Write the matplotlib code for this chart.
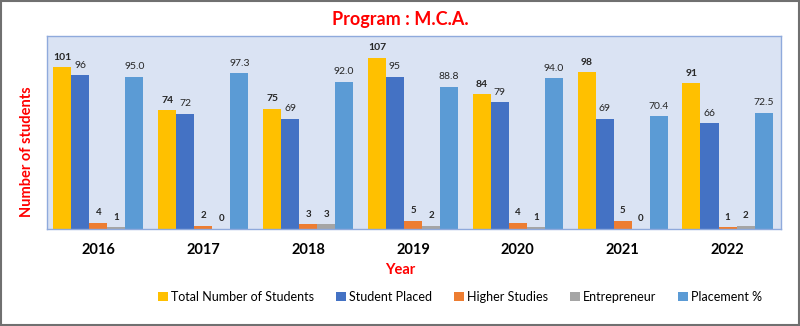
import matplotlib
matplotlib.use("Agg")
import matplotlib.pyplot as plt
import numpy as np
from matplotlib.patches import Rectangle

years = ["2016", "2017", "2018", "2019", "2020", "2021", "2022"]
total_students = [101, 74, 75, 107, 84, 98, 91]
student_placed = [96, 72, 69, 95, 79, 69, 66]
higher_studies = [4, 2, 3, 5, 4, 5, 1]
entrepreneur = [1, 0, 3, 2, 1, 0, 2]
placement_pct = [95.0, 97.3, 92.0, 88.8, 94.0, 70.4, 72.5]

series = [
    ("Total Number of Students", total_students, "#FFC000", "{:.0f}", "bold"),
    ("Student Placed", student_placed, "#4472C4", "{:.0f}", "normal"),
    ("Higher Studies", higher_studies, "#ED7D31", "{:.0f}", "bold"),
    ("Entrepreneur", entrepreneur, "#A5A5A5", "{:.0f}", "bold"),
    ("Placement %", placement_pct, "#5B9BD5", "{:.1f}", "normal"),
]

plt.rcParams['font.family'] = ['Lato', 'DejaVu Sans']

fig = plt.figure(figsize=(8, 3.26), dpi=100)
ax = fig.add_axes([0.05875, 0.2975, 0.9175, 0.592])
ax.set_facecolor("#DAE3F3")
for s in ax.spines.values():
    s.set_color("#8FAADC")
    s.set_linewidth(1.0)

x = np.arange(len(years))
w = 0.172
for i, (name, vals, col, fmt, fw) in enumerate(series):
    off = (i - 2) * w
    bars = ax.bar(x + off, vals, width=w, color=col, label=name, zorder=2)
    small = name in ("Higher Studies", "Entrepreneur")
    ax.bar_label(bars, labels=[fmt.format(v) for v in vals], padding=4,
                 fontsize=7 if small else 7.5, fontweight=fw, color="#262626")

ax.set_xlim(-0.49, 6.51)
ax.set_ylim(0, 120.5)
ax.set_yticks([])
ax.set_xticks(x)
ax.set_xticklabels(years, fontsize=10.5, fontweight="bold")
ax.tick_params(axis="x", length=0, pad=10)

fig.text(0.5, 0.939, "Program : M.C.A.", ha="center", va="center",
         fontsize=13, fontweight="bold", color="#FF0000")
fig.text(0.034, 0.534, "Number of students", ha="center", va="center",
         rotation=90, fontsize=10.5, fontweight="bold", color="#FF0000")
fig.text(0.5, 1 - 270 / 326, "Year", ha="center", va="center",
         fontsize=10.5, fontweight="bold", color="#FF0000")

fig.legend(loc="center", bbox_to_anchor=(460 / 800, 1 - 297 / 326), ncol=5,
           frameon=False, fontsize=9, handlelength=0.8, handleheight=0.8,
           handletextpad=0.2, columnspacing=1.8, borderaxespad=0)

fig.patches.append(Rectangle((0.0015, 0.003), 0.997, 0.994, transform=fig.transFigure,
                             fill=False, edgecolor="#707070", linewidth=1.5))

fig.savefig("out.png", dpi=100)
